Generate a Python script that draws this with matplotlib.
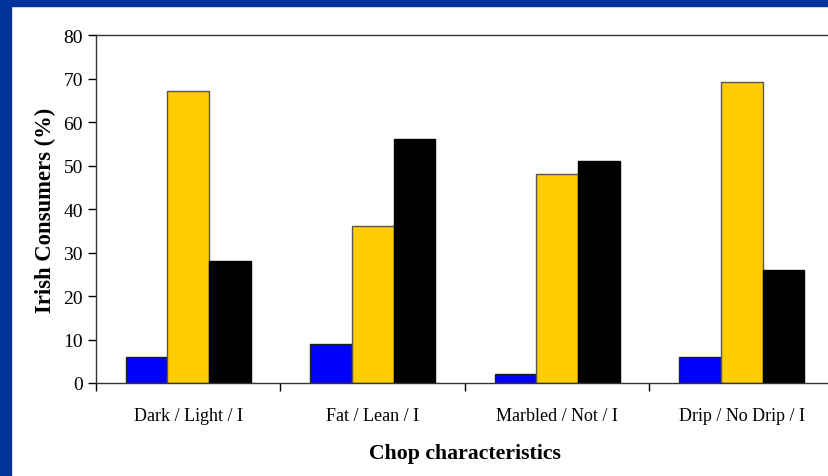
import numpy as np
import matplotlib.pyplot as plt
from matplotlib.patches import Rectangle

plt.rcParams['font.family'] = ['Liberation Serif', 'DejaVu Serif']

# Data
categories = ['Dark / Light / I', 'Fat / Lean / I', 'Marbled / Not / I', 'Drip / No Drip / I']
first = [6, 9, 2, 6]
second = [67.2, 36, 48, 69.2]
third = [28, 56, 51, 26]

fig = plt.figure(figsize=(8.29, 4.77), dpi=100)
W, H = 829, 477

# blue slide border on the left and top
fig.patches.append(Rectangle((0, 0), 11 / W, 1, transform=fig.transFigure,
                             color='#003399', zorder=0))
fig.patches.append(Rectangle((0, 1 - 7 / H), 1, 7 / H, transform=fig.transFigure,
                             color='#003399', zorder=0))

left, right = 96, 834
top, bottom = 36, 384
ax = fig.add_axes([left / W, 1 - bottom / H, (right - left) / W, (bottom - top) / H])

x = np.arange(len(categories))
w = 0.225
ax.bar(x - w, first, w, color='#0000FF', edgecolor='#222222', linewidth=1)
ax.bar(x, second, w, color='#FFCC00', edgecolor='#555555', linewidth=1)
ax.bar(x + w, third, w, color='#000000', edgecolor='#000000', linewidth=1)

ax.set_xlim(-0.5, len(categories) - 0.5)
ax.set_ylim(0, 80)
ax.set_yticks(range(0, 81, 10))
ax.set_xticks(x)
ax.set_xticklabels(categories, fontsize=13)
ax.tick_params(axis='x', length=0, pad=17)
ax.set_xticks(np.arange(-0.5, len(categories) - 0.5, 1), minor=True)
ax.tick_params(axis='x', which='minor', length=6, direction='out', width=1)
ax.tick_params(axis='y', labelsize=14, length=6, direction='out', width=1)

for s in ['left', 'top', 'bottom']:
    ax.spines[s].set_linewidth(1)
    ax.spines[s].set_color('#333333')
ax.spines['right'].set_visible(False)

ax.set_ylabel('Irish Consumers (%)', fontsize=16.3, fontweight='bold', labelpad=5)
ax.set_xlabel('Chop characteristics', fontsize=15.7, fontweight='bold', labelpad=14)

fig.savefig('out.png', dpi=100)
